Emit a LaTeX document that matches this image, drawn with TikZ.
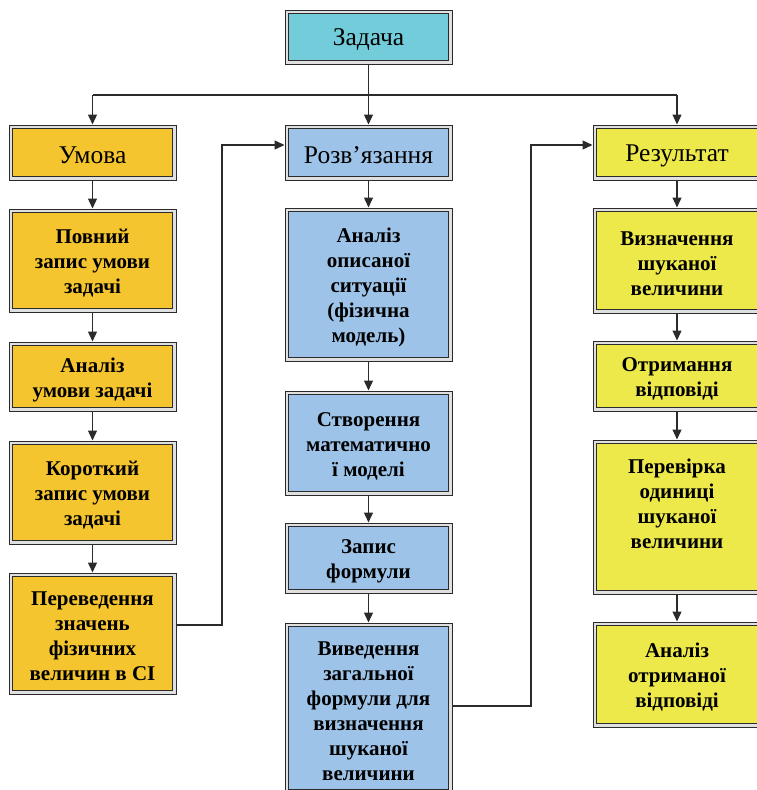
\documentclass[tikz,border=0pt]{standalone}
\usepackage{fontspec}
\setmainfont{Liberation Serif}
\usetikzlibrary{arrows.meta}
\pgfdeclarelayer{background}
\pgfsetlayers{background,main}

\definecolor{taskfill}{HTML}{72CCD9}
\definecolor{condfill}{HTML}{F5C52F}
\definecolor{solvefill}{HTML}{9EC3E8}
\definecolor{resfill}{HTML}{EEE94A}
\definecolor{ink}{HTML}{2B2B2B}

\tikzset{
  frame/.style={draw=ink, line width=1.9pt, inner sep=0pt, outer sep=4pt},
  headtext/.style={inner sep=0pt, font=\fontsize{25.5}{30}\selectfont},
  itemtext/.style={inner sep=0pt, font=\bfseries\fontsize{21}{25}\selectfont, align=center},
  outline/.style={draw=ink, line width=0.9pt, fill=black!12},
  plain/.style={draw=ink, line width=1.3pt},
  link/.style={plain, -{Triangle[length=10pt,width=9pt]}},
}

% #1 name, #2-#5 outer frame corners (x1,y1,x2,y2), #6 text style, #7 fill, #8 text
\newcommand\flowbox[8]{%
  \pgfmathsetmacro\fbw{#4-#2-7}\pgfmathsetmacro\fbh{#5-#3-7}%
  \pgfmathsetmacro\fcx{(#2+#4)/2}\pgfmathsetmacro\fcy{(#3+#5)/2}%
  \begin{pgfonlayer}{background}
    \draw[outline] (#2,#3) rectangle (#4,#5);
  \end{pgfonlayer}
  \node[frame, fill=#7, minimum width=\fbw pt, minimum height=\fbh pt] (#1) at (\fcx,\fcy) {};%
  \node[#6] (#1-text) at (\fcx,\fcy+3) {#8};%
}

\begin{document}
\begin{tikzpicture}[x=1pt, y=-1pt]
  \useasboundingbox (0,0) rectangle (757,790);

  % top
  \flowbox{task}{285}{10}{452}{64}{headtext}{taskfill}{Задача}

  % column headers
  \flowbox{umova}{9}{125}{176}{180}{headtext}{condfill}{Умова}
  \flowbox{solve}{285}{125}{452}{180}{headtext}{solvefill}{Розв’язання}
  \flowbox{result}{593}{125}{761}{180}{headtext}{resfill}{Результат}

  % left column
  \flowbox{l1}{9}{209}{176}{312}{itemtext}{condfill}{Повний\\запис умови\\задачі}
  \flowbox{l2}{9}{342}{176}{411}{itemtext}{condfill}{Аналіз\\умови задачі}
  \flowbox{l3}{9}{441}{176}{544}{itemtext}{condfill}{Короткий\\запис умови\\задачі}
  \flowbox{l4}{9}{573}{176}{694}{itemtext}{condfill}{Переведення\\значень\\фізичних\\величин в СІ}

  % middle column
  \flowbox{m1}{285}{208}{452}{361}{itemtext}{solvefill}{Аналіз\\описаної\\ситуації\\(фізична\\модель)}
  \flowbox{m2}{285}{391}{452}{495}{itemtext}{solvefill}{Створення\\математично\\ї моделі}
  \flowbox{m3}{285}{523}{452}{593}{itemtext}{solvefill}{Запис\\формули}
  \flowbox{m4}{285}{623}{452}{793}{itemtext}{solvefill}{Виведення\\загальної\\формули для\\визначення\\шуканої\\величини}

  % right column
  \flowbox{r1}{593}{208}{761}{313}{itemtext}{resfill}{Визначення\\шуканої\\величини}
  \flowbox{r2}{593}{341}{761}{411}{itemtext}{resfill}{Отримання\\відповіді}
  \flowbox{r3}{593}{440}{761}{594}{itemtext}{resfill}{Перевірка\\одиниці\\шуканої\\величини\\\strut}
  \flowbox{r4}{593}{622}{761}{727}{itemtext}{resfill}{Аналіз\\отриманої\\відповіді}

  % branching from the task
  \coordinate (hl) at (92.5,95);
  \coordinate (hr) at (677,95);
  \draw[plain] (task.south) -- (task.south |- hl);
  \draw[plain] (hl) -- (hr);
  \draw[link] (hl) -- (umova.north);
  \draw[link] (task.south |- hl) -- (solve.north);
  \draw[link] (hr) -- (result.north);

  % chains
  \draw[link] (umova.south) -- (l1.north);
  \draw[link] (l1.south) -- (l2.north);
  \draw[link] (l2.south) -- (l3.north);
  \draw[link] (l3.south) -- (l4.north);

  \draw[link] (solve.south) -- (m1.north);
  \draw[link] (m1.south) -- (m2.north);
  \draw[link] (m2.south) -- (m3.north);
  \draw[link] (m3.south) -- (m4.north);

  \draw[link] (result.south) -- (r1.north);
  \draw[link] (r1.south) -- (r2.north);
  \draw[link] (r2.south) -- (r3.north);
  \draw[link] (r3.south) -- (r4.north);

  % cross links between columns
  \coordinate (bendA) at (222,145);
  \coordinate (bendB) at (531,145);
  \draw[link] (l4.east |- 0,625) -| (bendA) -- (solve.west |- bendA);
  \draw[link] (m4.east |- 0,706) -| (bendB) -- (result.west |- bendB);
\end{tikzpicture}
\end{document}
